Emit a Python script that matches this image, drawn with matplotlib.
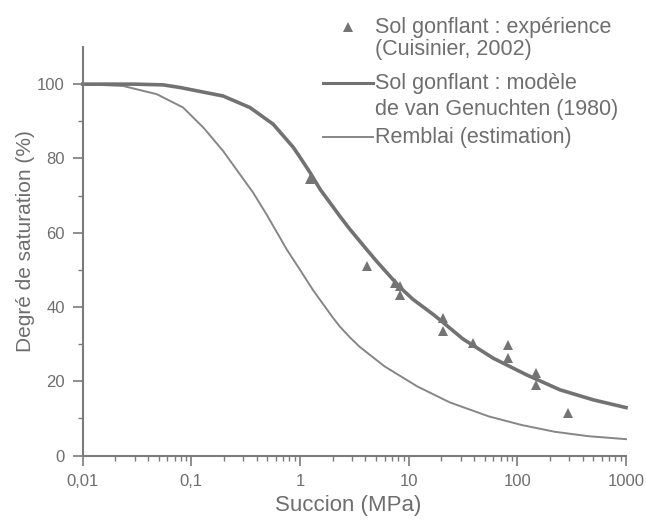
import matplotlib
matplotlib.use("Agg")
import matplotlib.pyplot as plt
from matplotlib.lines import Line2D
from matplotlib.ticker import FixedLocator, NullFormatter

# experimental points (Cuisinier, 2002) - suction in MPa, saturation in %
exp_suction = [1.23, 4.1, 7.5, 8.3, 8.3, 20.8, 20.8, 39, 82, 82, 150, 150, 293]
exp_sat = [74.4, 51.1, 46.5, 45.6, 43.3, 37.1, 33.4, 30.3, 29.8, 26.2, 22.2, 19.0, 11.4]

# van Genuchten model curve
model_suction = [0.01, 0.03, 0.055, 0.0785, 0.196, 0.346, 0.567, 0.866, 1.0, 1.23, 1.53,
                 2.33, 2.88, 4.1, 5.07, 8.3, 11, 16.8, 20.8, 31.5, 60, 122, 246,
                 498, 1000]
model_sat = [100, 100, 99.8, 99.1, 96.8, 93.7, 89.2, 83.0, 80.3, 76.3, 71.7,
             64.4, 60.9, 55.5, 52.3, 45.3, 42.0, 38.0, 35.8, 31.4, 26.2, 21.7, 17.7,
             15.0, 12.9]

# backfill estimate
remblai_suction = [0.01, 0.0236, 0.048, 0.084, 0.129, 0.196, 0.28, 0.37, 0.49, 0.65, 0.75,
                   1.0, 1.32, 2.02, 2.33, 2.88, 3.56, 6.0, 12, 23.9, 55, 110, 220,
                   450, 1000]
remblai_sat = [100, 99.5, 97.3, 93.7, 88.3, 82.0, 75.7, 70.8, 65.0, 58.8, 55.6,
               50.0, 44.5, 37.0, 34.7, 31.8, 29.2, 24.0, 18.6, 14.3, 10.5, 8.2, 6.4,
               5.2, 4.4]

xticks = [0.01, 0.1, 1, 10, 100, 1000]
xtick_labels = ["0,01", "0,1", "1", "10", "100", "1000"]
yticks = [0, 20, 40, 60, 80, 100]

legend_labels = ["Sol gonflant : expérience", "(Cuisinier, 2002)",
                 "Sol gonflant : modèle", "de van Genuchten (1980)",
                 "Remblai (estimation)"]

TXT = "#6e6e6e"
LN = "#7b7b7b"
plt.rcParams['font.family'] = ['Liberation Sans', 'DejaVu Sans']

W, H = 646, 521
def px(x, y):
    return x / W, 1 - y / H

fig = plt.figure(figsize=(6.46, 5.21), dpi=100)
ax = fig.add_axes([82.7 / W, 1 - 455.5 / H, (626 - 82.7) / W, (455.5 - 47) / H])

ax.plot(remblai_suction, remblai_sat, color="#868686", lw=1.4, clip_on=False,
        solid_joinstyle='round')
ax.plot(model_suction, model_sat, color="#727272", lw=2.6, clip_on=False,
        solid_joinstyle='round')
ax.plot(exp_suction, exp_sat, '^', color="#747474", ms=7.5, mew=0)

ax.set_xscale('log')
ax.set_xlim(0.01, 1000)
ax.set_ylim(0, 110)
ax.xaxis.set_major_locator(FixedLocator(xticks))
ax.set_xticklabels(xtick_labels)
ax.xaxis.set_minor_formatter(NullFormatter())
ax.set_yticks(yticks)
ax.set_yticks([10, 30, 50, 70, 90], minor=True)

for s in ['top', 'right']:
    ax.spines[s].set_visible(False)
for s in ['left', 'bottom']:
    ax.spines[s].set_color(LN)
    ax.spines[s].set_linewidth(1.5)

ax.tick_params(which='major', direction='out', length=7, width=1.2, color=LN,
               labelcolor=TXT, labelsize=12, pad=6)
ax.tick_params(which='minor', direction='out', length=3.5, width=1.0, color=LN)

ax.set_xlabel("Succion (MPa)", fontsize=16, color=TXT)
ax.set_ylabel("Degré de saturation (%)", fontsize=15, color=TXT)
ax.xaxis.set_label_coords(0.488, -0.097)
ax.yaxis.set_label_coords(-0.088, 0.525)

# legend, drawn by hand so the handles line up with the first line of each label
ly = [27, 50, 83, 110, 137]
for lab, y in zip(legend_labels, ly):
    fig.text(*px(375, y), lab, fontsize=15.5, color=TXT, ha='left', va='center')
fig.add_artist(Line2D([px(348, 27)[0]], [px(348, 27)[1]], marker='^', ms=7,
                      color="#747474", mew=0, ls='none'))
fig.add_artist(Line2D([px(323, 0)[0], px(373, 0)[0]], [px(0, 83)[1]] * 2,
                      color="#727272", lw=2.2))
fig.add_artist(Line2D([px(323, 0)[0], px(373, 0)[0]], [px(0, 137)[1]] * 2,
                      color="#868686", lw=1.4))

fig.savefig("out.png", dpi=100)
